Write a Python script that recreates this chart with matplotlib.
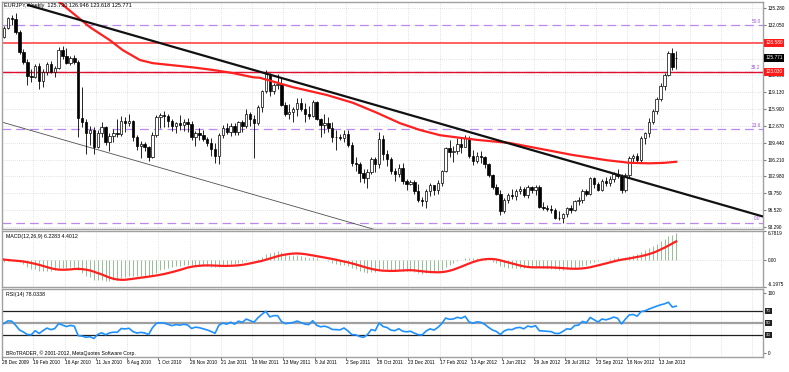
import matplotlib
matplotlib.use("Agg")
import matplotlib.pyplot as plt
from matplotlib.transforms import blended_transform_factory as blend
import numpy as np
import pandas as pd

plt.rcParams['font.family'] = ['Liberation Sans', 'DejaVu Sans']

# weekly EURJPY candles (bar index = week)
opens = [129.8, 131.5, 133.3, 133.1, 130.6, 126.9, 125.0, 122.2, 122.0, 124.2,
         121.3, 123.0, 124.6, 123.1, 123.8, 127.3, 126.0, 124.8, 125.6, 125.0,
         114.2, 113.4, 111.4, 111.8, 108.6, 111.3, 112.4, 109.5, 110.8, 111.3,
         111.2, 113.7, 113.3, 113.7, 110.5, 108.8, 109.2, 108.6, 106.8, 111.0,
         114.3, 114.8, 114.5, 113.6, 112.6, 113.3, 112.9, 113.4, 113.0, 110.6,
         111.3, 110.9, 110.2, 109.4, 108.3, 106.9, 110.9, 112.2, 111.5, 112.7,
         111.5, 113.4, 112.7, 114.9, 114.0, 113.2, 116.3, 119.3, 122.7, 119.3,
         120.6, 120.7, 116.7, 115.0, 115.4, 115.9, 117.0, 116.0, 114.9, 114.6,
         117.2, 114.0, 112.8, 113.2, 112.3, 110.6, 110.5, 110.3, 111.2, 109.1,
         105.6, 105.4, 103.6, 102.6, 103.8, 106.3, 105.4, 110.2, 107.3, 106.4,
         104.0, 103.4, 104.6, 102.2, 101.6, 101.9, 100.1, 98.4, 98.2, 100.1,
         101.3, 100.3, 101.7, 104.0, 108.4, 107.6, 107.9, 109.3, 108.7, 110.4,
         106.9, 106.0, 107.0, 106.7, 105.4, 103.2, 101.0, 99.7, 96.4, 98.5,
         99.4, 99.2, 100.2, 100.5, 99.4, 100.9, 100.3, 101.0, 97.2, 97.0,
         96.7, 96.5, 95.1, 95.0, 95.8, 96.9, 96.6, 98.2, 98.4, 100.2,
         99.6, 102.6, 101.5, 100.4, 102.2, 101.8, 102.5, 103.5, 103.0, 100.3,
         103.2, 106.6, 106.9, 106.1, 110.4, 111.3, 113.5, 115.6, 117.9, 120.4,
         122.4, 126.6, 125.730]
highs = [131.8, 133.6, 134.0, 134.3, 131.0, 127.5, 125.5, 123.6, 124.6, 124.8,
         123.5, 124.9, 125.2, 124.1, 127.8, 128.0, 127.6, 126.0, 126.2, 125.4,
         120.2, 114.0, 112.6, 112.5, 111.9, 113.5, 112.6, 111.3, 112.0, 114.0,
         114.6, 114.3, 115.0, 113.9, 110.9, 109.8, 109.5, 108.8, 111.5, 114.7,
         115.2, 115.5, 114.9, 114.0, 113.5, 114.7, 114.0, 114.1, 113.6, 111.7,
         112.2, 111.9, 110.6, 110.4, 109.4, 111.4, 112.8, 113.2, 113.3, 113.3,
         113.6, 113.8, 116.0, 115.4, 114.8, 116.6, 119.6, 123.3, 122.8, 120.9,
         122.7, 121.8, 117.3, 116.9, 116.3, 118.0, 118.0, 117.0, 116.4, 117.6,
         117.5, 114.2, 114.9, 114.4, 113.5, 111.9, 111.2, 111.9, 111.8, 109.5,
         106.8, 105.7, 104.5, 104.5, 106.8, 106.7, 111.6, 111.0, 108.0, 106.8,
         104.6, 105.3, 105.5, 102.5, 102.3, 102.3, 101.6, 99.0, 100.5, 101.8,
         101.4, 102.3, 104.2, 108.6, 109.9, 108.8, 110.4, 110.3, 111.0, 110.8,
         108.0, 107.6, 107.8, 106.9, 105.5, 103.5, 101.6, 100.3, 98.8, 99.8,
         100.5, 100.6, 101.1, 101.0, 101.4, 101.2, 101.3, 101.3, 98.0, 97.6,
         97.5, 96.9, 96.3, 96.0, 97.2, 97.6, 98.5, 99.0, 100.5, 100.6,
         102.9, 102.8, 101.9, 102.5, 102.8, 103.0, 103.8, 104.5, 103.5, 103.6,
         107.0, 107.3, 107.5, 110.8, 111.6, 114.2, 116.0, 118.2, 120.9, 122.8,
         127.0, 127.7, 126.946]
lows = [129.5, 131.2, 132.0, 130.3, 126.5, 124.6, 120.6, 121.0, 121.8, 119.7,
        120.2, 122.5, 122.8, 122.0, 123.5, 125.5, 124.5, 124.3, 124.5, 110.5,
        112.5, 107.3, 109.0, 107.3, 108.4, 110.5, 109.0, 107.8, 109.5, 110.5,
        110.8, 111.6, 112.6, 109.8, 108.1, 106.6, 107.8, 106.0, 106.6, 110.5,
        112.3, 112.5, 112.4, 111.7, 111.4, 111.9, 111.7, 111.5, 110.0, 108.9,
        110.0, 109.8, 108.9, 107.0, 105.5, 105.4, 110.4, 111.2, 110.8, 110.9,
        110.9, 111.5, 112.3, 112.6, 106.6, 112.9, 115.3, 119.0, 118.4, 118.8,
        119.8, 116.4, 114.5, 114.0, 113.5, 114.5, 115.5, 113.5, 114.0, 114.4,
        113.8, 110.5, 111.3, 111.6, 109.6, 108.0, 109.9, 109.6, 108.7, 105.0,
        104.0, 102.0, 101.8, 100.7, 103.5, 103.8, 104.6, 106.2, 105.0, 103.5,
        102.2, 102.8, 101.5, 100.3, 101.3, 99.6, 98.0, 97.3, 97.0, 99.2,
        99.4, 99.7, 101.1, 103.9, 106.8, 105.8, 107.3, 107.4, 108.6, 106.6,
        105.2, 105.6, 105.6, 104.7, 102.8, 100.5, 99.4, 95.6, 96.0, 97.8,
        98.6, 98.5, 99.6, 99.0, 98.9, 99.8, 99.5, 96.9, 96.5, 96.3,
        96.0, 94.9, 94.7, 94.1, 95.3, 96.0, 96.3, 97.6, 97.8, 99.2,
        99.4, 100.8, 100.2, 100.1, 101.1, 101.2, 102.0, 102.7, 99.8, 100.0,
        102.9, 105.6, 105.5, 105.7, 109.2, 110.6, 113.0, 115.0, 117.5, 119.5,
        122.2, 123.4, 123.618]
closes = [131.5, 133.3, 133.1, 130.6, 126.9, 125.0, 122.2, 122.0, 124.2, 121.3,
          123.0, 124.6, 123.1, 123.8, 127.3, 126.0, 124.8, 125.6, 125.0, 114.2,
          113.4, 111.4, 111.8, 108.6, 111.3, 112.4, 109.5, 110.8, 111.3, 111.2,
          113.7, 113.3, 113.7, 110.5, 108.8, 109.2, 108.6, 106.8, 111.0, 114.3,
          114.8, 114.5, 113.6, 112.6, 113.3, 112.9, 113.4, 113.0, 110.6, 111.3,
          110.9, 110.2, 109.4, 108.3, 106.9, 110.9, 112.2, 111.5, 112.7, 111.5,
          113.4, 112.7, 114.9, 114.0, 113.2, 116.3, 119.3, 122.7, 119.3, 120.6,
          120.7, 116.7, 115.0, 115.4, 115.9, 117.0, 116.0, 114.9, 114.6, 117.2,
          114.0, 112.8, 113.2, 112.3, 110.6, 110.5, 110.3, 111.2, 109.1, 105.6,
          105.4, 103.6, 102.6, 103.8, 106.3, 105.4, 110.2, 107.3, 106.4, 104.0,
          103.4, 104.6, 102.2, 101.6, 101.9, 100.1, 98.4, 98.2, 100.1, 101.3,
          100.3, 101.7, 104.0, 108.4, 107.6, 107.9, 109.3, 108.7, 110.4, 106.9,
          106.0, 107.0, 106.7, 105.4, 103.2, 101.0, 99.7, 96.4, 98.5, 99.4,
          99.2, 100.2, 100.5, 99.4, 100.9, 100.3, 101.0, 97.2, 97.0, 96.7,
          96.5, 95.1, 95.0, 95.8, 96.9, 96.6, 98.2, 98.4, 100.2, 99.6,
          102.6, 101.5, 100.4, 102.2, 101.8, 102.5, 103.5, 103.0, 100.3, 103.2,
          106.6, 106.9, 106.1, 110.4, 111.3, 113.5, 115.6, 117.9, 120.4, 122.4,
          126.6, 124.0, 125.771]
# closes before the first visible bar, only used to warm up the indicators
pre_closes = [129.6, 132.9, 134.3, 136.5, 135.6, 135.0, 133.4, 131.8, 132.9, 133.6,
              134.5, 133.8, 131.0, 134.6, 135.2, 133.6, 132.3, 133.8, 131.5, 128.0,
              131.7, 130.6, 130.2, 129.8]

date_labels = ["28 Dec 2009", "19 Feb 2010", "16 Apr 2010", "11 Jun 2010", "6 Aug 2010",
               "1 Oct 2010", "26 Nov 2010", "21 Jan 2011", "18 Mar 2011", "13 May 2011",
               "8 Jul 2011", "2 Sep 2011", "28 Oct 2011", "23 Dec 2011", "17 Feb 2012",
               "13 Apr 2012", "1 Jun 2012", "29 Jun 2012", "29 Jul 2012", "23 Sep 2012",
               "18 Nov 2012", "13 Jan 2013"]
label_step = 8

price_ticks = [135.280, 132.050, 128.820, 125.590, 122.360, 119.130, 115.900,
               112.670, 109.440, 106.210, 102.980, 99.750, 96.520, 93.290]
hidden_ticks = [128.820, 125.590]   # covered by the price boxes on the chart

# 100-week moving average, read at a few bars
ma_bars = [12.0, 16.0, 22.0, 27.1, 30.4, 34.8, 38.1, 43.2, 48.3, 53.5, 58.6, 63.7,
           65.5, 73.9, 82.6, 89.3, 95.4, 101.3, 106.4, 111.5, 116.6, 121.0, 129.4,
           137.1, 145.5, 154.2, 160.1, 165.2, 169.0, 172.0]
ma_vals = [137.8, 135.3, 131.6, 129.1, 127.2, 125.3, 124.7, 124.3, 123.9, 123.4, 122.8,
           122.0, 121.9, 120.1, 118.6, 117.1, 115.2, 113.2, 111.9, 110.9, 110.4, 110.0,
           109.4, 108.3, 107.1, 106.1, 105.6, 105.5, 105.6, 105.8]

trend_bars = [5.9, 194.2]
trend_prices = [135.9, 95.3]
channel_bars = [-0.5, 100.0]
channel_prices = [113.4, 91.7]

fib_levels = [94.12, 112.02, 123.09, 132.05]
fib_names = ["0.0", "23.6", "38.2", "50.0"]
red_levels = [128.58, 123.03]
red_names = ["128.580", "123.030"]

rsi_levels = [70, 50, 30]

# ---- indicators
allc = pd.Series(pre_closes + closes)
ema12 = allc.ewm(span=12, adjust=False).mean()
ema26 = allc.ewm(span=26, adjust=False).mean()
macd_all = ema12 - ema26
sig_all = macd_all.rolling(9, min_periods=1).mean()
delta = allc.diff().fillna(0)
gain = delta.clip(lower=0).ewm(alpha=1 / 14, adjust=False).mean()
loss = (-delta.clip(upper=0)).ewm(alpha=1 / 14, adjust=False).mean()
rsi_all = 100 - 100 / (1 + gain / loss)
n0 = len(pre_closes)
macd_main = macd_all.values[n0:]
macd_sig = sig_all.values[n0:]
rsi = rsi_all.values[n0:]

o, h, l, c = map(np.array, (opens, highs, lows, closes))
x = np.arange(len(c))

W, H = 789, 372
fig = plt.figure(figsize=(W / 100, H / 100), dpi=100)
fig.patch.set_facecolor('white')
FS = 3.4


def pane(top, bottom):
    a = fig.add_axes([2 / W, 1 - bottom / H, 761 / W, (bottom - top) / H])
    for s in a.spines.values():
        s.set_color('#a0a0a0')
        s.set_linewidth(1.0)
    a.set_xlim(-0.5, 194.2)
    a.yaxis.tick_right()
    a.tick_params(axis='y', labelsize=FS, length=2, pad=1.5, color='#808080')
    a.tick_params(axis='x', length=0, labelbottom=False)
    return a


ax = pane(2, 229)
ax_m = pane(231, 287)
ax_r = pane(289, 357)

grid_bars = list(range(0, 200, label_step))
grid_kw = dict(color='#c8c8c8', lw=0.5, ls=(0, (1, 2)), zorder=0)
for a in (ax, ax_m, ax_r):
    for gb in grid_bars:
        a.axvline(gb - 0.5, **grid_kw)

# ---- main price pane
ax.set_ylim(92.91, 136.43)
ax.set_yticks(price_ticks)
ax.set_yticklabels(["" if p in hidden_ticks else f"{p:.3f}" for p in price_ticks])
for p in price_ticks:
    ax.axhline(p, **grid_kw)

for lv in fib_levels:
    ax.axhline(lv, color='#bb88ee', lw=0.9, ls=(0, (7, 4)), zorder=1)
ax.axhline(red_levels[0], color='#ff5555', lw=1.3, zorder=1)
ax.axhline(red_levels[1], color='#e0102a', lw=1.0, zorder=1)
ax.plot(channel_bars, channel_prices, color='#505050', lw=0.6, zorder=2)

up = c >= o
ax.vlines(x, l, h, color='black', lw=0.6, zorder=3)
ax.bar(x[up], np.maximum(c - o, 0.05)[up], bottom=o[up], width=0.62,
       color='white', edgecolor='black', lw=0.5, zorder=4)
ax.bar(x[~up], (o - c)[~up], bottom=c[~up], width=0.62,
       color='black', edgecolor='black', lw=0.5, zorder=4)

ax.plot(ma_bars, ma_vals, color='#ff2020', lw=1.6, zorder=5)
ax.plot(trend_bars, trend_prices, color='#111111', lw=1.6, zorder=6, solid_capstyle='butt')

ty = blend(ax.transAxes, ax.transData)
for lv, nm in zip(fib_levels, fib_names):
    ax.text(193.6, lv + 0.25, nm, color='#9955dd', fontsize=FS, ha='right', va='bottom', zorder=7)
for lv, nm in zip(red_levels, red_names):
    ax.text(1.003, lv, nm, transform=ty, color='white', fontsize=FS, ha='left', va='center',
            clip_on=False, zorder=10,
            bbox=dict(boxstyle='square,pad=0.3', fc='#ff1a1a', ec='none'))
ax.text(1.003, c[-1], f"{c[-1]:.3f}", transform=ty, color='white', fontsize=FS, ha='left',
        va='center', clip_on=False, zorder=10,
        bbox=dict(boxstyle='square,pad=0.3', fc='black', ec='none'))

fig.text(4 / W, 1 - 5.5 / H,
         f"EURJPY,Weekly  {o[-1]:.3f} {h[-1]:.3f} {l[-1]:.3f} {c[-1]:.3f}",
         fontsize=4, ha='left', va='center')

# ---- MACD pane
ax_m.set_ylim(-6.1975, 6.7819)
ax_m.set_yticks([6.7819, 0, -6.1975])
ax_m.set_yticklabels(["6.7819", "0.00", "-6.1975"])
tl = ax_m.get_yticklabels()
tl[0].set_va('top')
tl[2].set_va('bottom')
ax_m.axhline(0, **grid_kw)
ax_m.vlines(x, 0, macd_main, color='#93c093', lw=0.7, zorder=2)
ax_m.plot(x, macd_sig, color='#ff2020', lw=1.6, zorder=3)
ax_m.text(4 / 761, 0.9, "MACD(12,26,9) 6.2283 4.4012", transform=ax_m.transAxes,
          fontsize=3.8, ha='left', va='center')

# ---- RSI pane
ax_r.set_ylim(-6.2, 107.2)
ax_r.set_yticks([100, 0])
ax_r.set_yticklabels(["100", "0"])
for lv in rsi_levels:
    if lv == 50:
        ax_r.axhline(lv, color='#a0a0a0', lw=1.6, zorder=1)
    else:
        ax_r.axhline(lv, color='#202020', lw=0.9, zorder=1)
    ax_r.text(1.004, lv, str(lv), transform=blend(ax_r.transAxes, ax_r.transData),
              color='white', fontsize=3.2, ha='left', va='center', clip_on=False,
              bbox=dict(boxstyle='square,pad=0.2', fc='#222222', ec='none'))
ax_r.plot(x, rsi, color='#1e90ff', lw=1.2, zorder=3)
ax_r.text(4 / 761, 0.92, "RSI(14) 78.0338", transform=ax_r.transAxes,
          fontsize=3.8, ha='left', va='center')
ax_r.text(4 / 761, 0.06, "BRoTRADER, \u00a9 2001-2012, MetaQuotes Software Corp.",
          transform=ax_r.transAxes, fontsize=3.7, ha='left', va='center')

tick_bars = [i * label_step for i in range(len(date_labels))]
ax_r.set_xticks([b - 0.5 for b in tick_bars])
ax_r.tick_params(axis='x', length=2, color='#808080', direction='out')
bx = blend(ax_r.transData, ax_r.transAxes)
for b, lab in zip(tick_bars, date_labels):
    ax_r.text(b - 0.5, -0.04, lab, transform=bx, fontsize=FS, ha='left', va='top', clip_on=False)

fig.savefig("out.png", dpi=100)
